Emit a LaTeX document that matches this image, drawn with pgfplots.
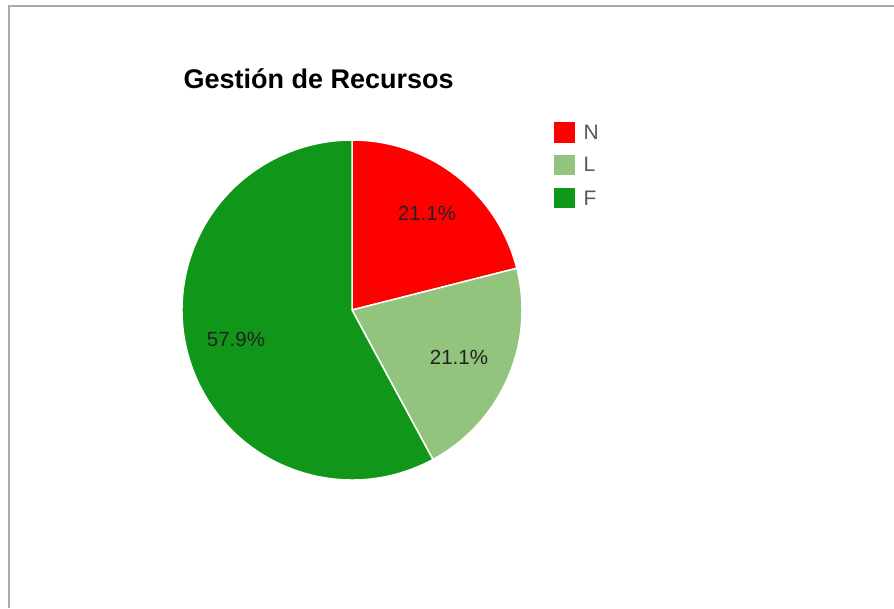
\documentclass[border=0pt]{standalone}
\usepackage{pgfplots}
\pgfplotsset{compat=1.18}
\usepackage{pgfplotstable}
\usepackage{fontspec}
\setmainfont{Liberation Sans}

\definecolor{cN}{HTML}{FF0000}
\definecolor{cL}{HTML}{93C47D}
\definecolor{cF}{HTML}{109618}
\definecolor{frame}{HTML}{AAAAAA}
\definecolor{txt}{HTML}{222222}

% slice values (N, L, F)
\pgfplotstableread{
label value
N 4
L 4
F 11
}\piedata

\pgfplotstablegetelem{0}{value}\of\piedata \let\vN\pgfplotsretval
\pgfplotstablegetelem{1}{value}\of\piedata \let\vL\pgfplotsretval
\pgfplotstablegetelem{2}{value}\of\piedata \let\vF\pgfplotsretval
\pgfmathsetmacro\tot{\vN+\vL+\vF}
\pgfmathsetmacro\aA{90}
\pgfmathsetmacro\aB{\aA-360*\vN/\tot}
\pgfmathsetmacro\aC{\aB-360*\vL/\tot}
\pgfmathsetmacro\aD{\aC-360*\vF/\tot}
\pgfmathsetmacro\pN{100*\vN/\tot}
\pgfmathsetmacro\pL{100*\vL/\tot}
\pgfmathsetmacro\pF{100*\vF/\tot}
\newcommand{\pct}[1]{\pgfmathprintnumber[fixed,fixed zerofill,precision=1,assume math mode=true]{#1}\%}

\begin{document}
\begin{tikzpicture}
\path[use as bounding box] (0pt,0pt) rectangle (894pt,608pt);
\begin{axis}[
    at={(0pt,0pt)}, anchor=south west,
    x=1pt, y=1pt,
    xmin=0, xmax=894, ymin=0, ymax=608,
    hide axis, clip=false,
]
% frame
\draw[frame, line width=2pt] (axis cs:9,0) -- (axis cs:9,602) -- (axis cs:894,602);

% slices
\fill[cN, draw=white, line width=1.5pt] (axis cs:352,298) -- ++(\aA:170pt) arc[start angle=\aA, end angle=\aB, radius=170pt] -- cycle;
\fill[cL, draw=white, line width=1.5pt] (axis cs:352,298) -- ++(\aB:170pt) arc[start angle=\aB, end angle=\aC, radius=170pt] -- cycle;
\fill[cF, draw=white, line width=1.5pt] (axis cs:352,298) -- ++(\aC:170pt) arc[start angle=\aC, end angle=\aD, radius=170pt] -- cycle;

% slice labels
\node[txt, font=\fontsize{20.5}{24}\selectfont] at (axis cs:427,395) {\pct{\pN}};
\node[txt, font=\fontsize{20.5}{24}\selectfont] at (axis cs:459,251) {\pct{\pL}};
\node[txt, font=\fontsize{20.5}{24}\selectfont] at (axis cs:236,269) {\pct{\pF}};

% title
\node[anchor=base west, font=\bfseries\fontsize{27}{32}\selectfont] at (axis cs:180,519) {Gestión de Recursos};

% legend
\fill[cN] (axis cs:554,465) rectangle (axis cs:575,486);
\fill[cL] (axis cs:554,433) rectangle (axis cs:575,453);
\fill[cF] (axis cs:554,400) rectangle (axis cs:575,420);
\node[anchor=west, text=black!65, font=\fontsize{21}{24}\selectfont] at (axis cs:580,476) {N};
\node[anchor=west, text=black!65, font=\fontsize{21}{24}\selectfont] at (axis cs:580,444) {L};
\node[anchor=west, text=black!65, font=\fontsize{21}{24}\selectfont] at (axis cs:580,410) {F};
\end{axis}
\end{tikzpicture}
\end{document}
